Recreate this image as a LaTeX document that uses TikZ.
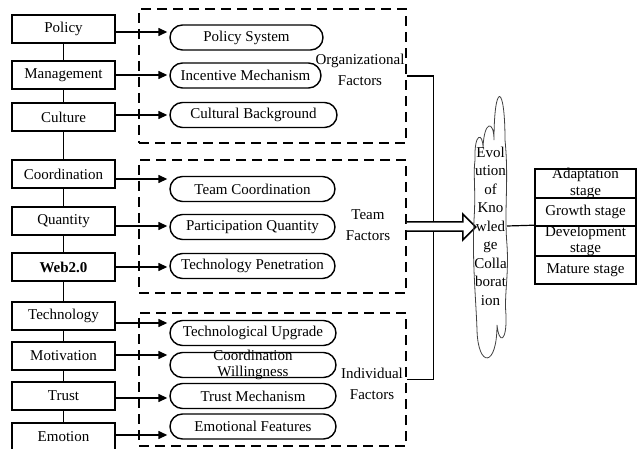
\documentclass[tikz,border=0pt]{standalone}
\usepackage{fontspec}
\setmainfont{Liberation Serif}
\usetikzlibrary{arrows.meta}
\begin{document}
\begin{tikzpicture}[x=1pt,y=-1pt,
  font=\fontsize{15}{18}\selectfont,
  lbox/.style={draw,line width=1.5pt,minimum width=103pt,minimum height=28pt,inner sep=0pt},
  pill/.style={draw,line width=1.4pt,rounded corners=12.5pt,minimum height=25pt,inner sep=0pt},
  grp/.style={draw,line width=1.5pt,dash pattern=on 10pt off 6pt,inner sep=0pt},
  arr/.style={line width=1.4pt,-{Triangle[length=9pt,width=8pt]},shorten >=2pt},
  lbl/.style={align=center,font=\fontsize{15}{21}\selectfont,inner sep=0pt},
  two/.style={align=center,font=\fontsize{15}{16.5}\selectfont,inner sep=0pt},
  stg/.style={draw,line width=1.6pt,minimum width=101pt,inner sep=0pt},
  conn/.style={line width=1.4pt},
]
\useasboundingbox (0,0) rectangle (637,449);

% left column
\node[lbox] (lb1) at (63.5,29) {Policy};
\node[lbox] (lb2) at (63.5,75) {Management};
\node[lbox] (lb3) at (63.5,117) {Culture};
\node[lbox] (lb4) at (63.5,174) {Coordination};
\node[lbox] (lb5) at (63.5,221) {Quantity};
\node[lbox] (lb6) at (63.5,267) {\textbf{Web2.0}};
\node[lbox] (lb7) at (63.5,316) {Technology};
\node[lbox] (lb8) at (63.5,356) {Motivation};
\node[lbox] (lb9) at (63.5,396) {Trust};
\node[lbox] (lb10) at (63.5,437) {Emotion};
\foreach \a/\b in {lb1/lb2,lb2/lb3,lb3/lb4,lb4/lb5,lb5/lb6,lb6/lb7,lb7/lb8,lb8/lb9,lb9/lb10}
  \draw[conn] (\a.south) -- (\b.north);

% dashed groups
\node[grp,minimum width=267pt,minimum height=134pt] (org) at (272.5,76) {};
\node[grp,minimum width=267pt,minimum height=133pt] (team) at (272.5,226.5) {};
\node[grp,minimum width=267pt,minimum height=133pt] (ind) at (272.5,379.5) {};

% pills
\node[pill,minimum width=153pt] (p1) at (246.5,37.5) {Policy System};
\node[pill,minimum width=151pt] (p2) at (245.5,75.5) {Incentive Mechanism};
\node[pill,minimum width=167pt] (p3) at (253.5,115) {Cultural Background};
\node[pill,minimum width=165pt] (p4) at (252.5,189) {Team Coordination};
\node[pill,minimum width=165pt] (p5) at (252.5,227) {Participation Quantity};
\node[pill,minimum width=165pt] (p6) at (252.5,266) {Technology Penetration};
\node[pill,minimum width=166pt] (p7) at (253,333) {Technological Upgrade};
\node[pill,minimum width=166pt] (p8) at (253,365) {};
\node[two] (p8t) at (p8) {Coordination\\Willingness};
\node[pill,minimum width=166pt] (p9) at (253,396) {Trust Mechanism};
\node[pill,minimum width=166pt] (p10) at (253,426.5) {Emotional Features};

% arrows
\draw[arr] (lb1.east |- 0,32) -- (p1.west |- 0,32);
\draw[arr] (lb2.east |- 0,75) -- (p2.west |- 0,75);
\draw[arr] (lb3.east |- 0,115) -- (p3.west |- 0,115);
\draw[arr] (lb4.east |- 0,179) -- (p4.west |- 0,179);
\draw[arr] (lb5.east |- 0,226) -- (p5.west |- 0,226);
\draw[arr] (lb6.east |- 0,267) -- (p6.west |- 0,267);
\draw[arr] (lb7.east |- 0,323) -- (p7.west |- 0,323);
\draw[arr] (lb8.east |- 0,355) -- (p8.west |- 0,355);
\draw[arr] (lb9.east |- 0,398) -- (p9.west |- 0,398);
\draw[arr] (lb10.east |- 0,435) -- (p10.west |- 0,435);

% group labels
\node[lbl] (orgl) at (360,70) {Organizational\\Factors};
\node[lbl] (teaml) at (368,225) {Team\\Factors};
\node[lbl] (indl) at (372,384) {Individual\\Factors};

% bracket
\draw[conn] (org.east) -- ++(27,0) |- (ind.east);

% big hollow arrow
\draw[line width=1.5pt,fill=white] ([yshift=4.5pt]team.east) -- ++(56,0) -- ++(0,-8) -- ++(13,13) -- ++(-13,13) -- ++(0,-9) -- ++(-56,0);

% cloud
\draw[line width=0.8pt,black!75] (475,160)
  .. controls (474,132) and (483,132) .. (483,148)
  .. controls (484,120) and (494,120) .. (494,140)
  .. controls (494,82) and (505,82) .. (505,140)
  .. controls (509,180) and (504,210) .. (507,245)
  .. controls (509,275) and (504,295) .. (506,315)
  .. controls (507,342) and (499,345) .. (497,325)
  .. controls (497,368) and (478,368) .. (477,330)
  .. controls (476,300) and (472,260) .. (474,220)
  .. controls (476,190) and (473,175) .. (475,160) -- cycle;
\node[align=center,font=\fontsize{15}{18.5}\selectfont,inner sep=0pt] (ct) at (490.5,226)
  {Evol\\ution\\of\\Kno\\wled\\ge\\Colla\\borat\\ion};
\coordinate (cr) at (507,226);

% stages
\node[stg,minimum height=29pt] (st1) at (585.5,183.5) {};
\node[two] (st1t) at (st1) {Adaptation\\stage};
\node[stg,minimum height=28pt] (st2) at (585.5,212) {Growth stage};
\node[stg,minimum height=30pt] (st3) at (585.5,241) {};
\node[two] (st3t) at (st3) {Development\\stage};
\node[stg,minimum height=28pt] (st4) at (585.5,270) {Mature stage};

\draw[line width=1.2pt] (cr) -- (st3.north west);
\end{tikzpicture}
\end{document}
